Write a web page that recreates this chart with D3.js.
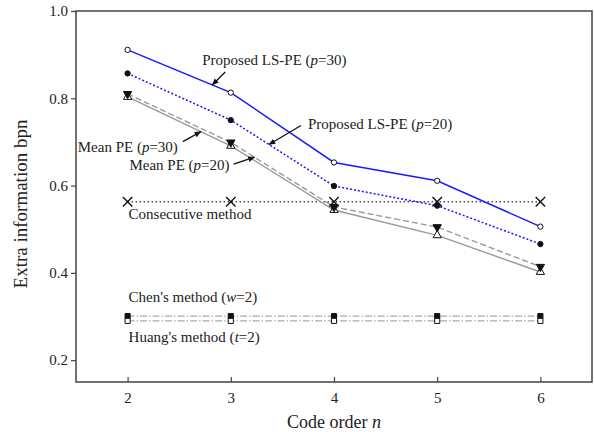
<!DOCTYPE html>
<html>
<head>
<meta charset="utf-8">
<script src="https://cdn.jsdelivr.net/npm/d3@7"></script>
<style>
  body { margin: 0; background: #fff; }
  text { font-family: "Liberation Serif", "Times New Roman", serif; fill: #222; }
</style>
</head>
<body>
<div id="chart"></div>
<script>
// data
const codeOrder = [2, 3, 4, 5, 6];
const lsPe30 = [0.911, 0.813, 0.653, 0.611, 0.506];
const lsPe20 = [0.857, 0.750, 0.599, 0.554, 0.466];
const meanPe20 = [0.810, 0.699, 0.551, 0.505, 0.414];  // dashed, filled down triangles
const meanPe30 = [0.803, 0.691, 0.544, 0.486, 0.402];  // solid, open triangles
const consecutive = [0.563, 0.563, 0.563, 0.563, 0.563];
const chen = [0.301, 0.301, 0.301, 0.301, 0.301];
const huang = [0.290, 0.290, 0.290, 0.290, 0.290];
const yTicks = [0.2, 0.4, 0.6, 0.8, 1.0];

var width = 594, height = 432;
var margin = { top: 11, right: 2, bottom: 50, left: 76 };

var svg = d3.select("#chart")
  .append("svg")
  .attr("width", width)
  .attr("height", height);

var x = d3.scaleLinear().domain([1.5, 6.5]).range([margin.left, width - margin.right]);
var y = d3.scaleLinear().domain([0.15, 1.0]).range([height - margin.bottom, margin.top]);

// arrow head
svg.append("defs").append("marker")
  .attr("id", "arrow")
  .attr("viewBox", "0 0 10 10")
  .attr("refX", 9).attr("refY", 5)
  .attr("markerWidth", 7).attr("markerHeight", 7)
  .attr("markerUnits", "userSpaceOnUse")
  .attr("orient", "auto")
  .append("path")
  .attr("d", "M0,1 L10,5 L0,9 Z")
  .attr("fill", "#111");

var axisColor = "#444";

// frame
svg.append("rect")
  .attr("x", x(1.5)).attr("y", y(1.0))
  .attr("width", x(6.5) - x(1.5)).attr("height", y(0.15) - y(1.0))
  .attr("fill", "none").attr("stroke", axisColor).attr("stroke-width", 1.5);

// x axis, ticks pointing in
var xAxis = svg.append("g")
  .attr("transform", "translate(0," + y(0.15) + ")")
  .call(d3.axisBottom(x).tickValues(codeOrder).tickFormat(d3.format("d"))
    .tickSizeInner(-5).tickSizeOuter(0).tickPadding(10));
xAxis.select(".domain").remove();
xAxis.selectAll("line").attr("stroke", axisColor).attr("stroke-width", 1.2);
xAxis.selectAll("text").attr("font-size", 15).attr("fill", "#222")
  .style("font-family", "Liberation Serif");

// y axis, ticks pointing out
var yAxis = svg.append("g")
  .attr("transform", "translate(" + x(1.5) + ",0)")
  .call(d3.axisLeft(y).tickValues(yTicks).tickFormat(d3.format(".1f"))
    .tickSizeInner(5).tickSizeOuter(0).tickPadding(3));
yAxis.select(".domain").remove();
yAxis.selectAll("line").attr("stroke", axisColor).attr("stroke-width", 1.2);
yAxis.selectAll("text").attr("font-size", 15).attr("fill", "#222")
  .style("font-family", "Liberation Serif");

// axis titles
var xTitle = svg.append("text")
  .attr("x", (x(1.5) + x(6.5)) / 2).attr("y", 428)
  .attr("text-anchor", "middle").attr("font-size", 18);
xTitle.append("tspan").text("Code order ");
xTitle.append("tspan").attr("font-style", "italic").text("n");

svg.append("text")
  .attr("transform", "translate(27,204) rotate(-90)")
  .attr("text-anchor", "middle").attr("font-size", 19)
  .text("Extra information bpn");

function series(values) {
  return codeOrder.map((n, i) => ({ n: n, v: values[i] }));
}

var line = d3.line().x(d => x(d.n)).y(d => y(d.v));

function drawLine(values, color, width, dash) {
  svg.append("path")
    .datum(series(values))
    .attr("d", line)
    .attr("fill", "none")
    .attr("stroke", color)
    .attr("stroke-width", width)
    .attr("stroke-dasharray", dash);
}

drawLine(chen, "#aaa", 1.3, "7,2,1.5,2");
drawLine(huang, "#aaa", 1.3, "7,2,1.5,2");
drawLine(consecutive, "#333", 1.3, "1.3,2.7");
drawLine(meanPe30, "#9a9a9a", 1.4, null);
drawLine(meanPe20, "#9a9a9a", 1.4, "6,3");
drawLine(lsPe20, "#1a1aff", 1.5, "2,2");
drawLine(lsPe30, "#1a1aff", 1.5, null);

// markers
function drawSymbols(values, type, size, fill, stroke, rotate, sw) {
  svg.append("g").selectAll("path")
    .data(series(values))
    .join("path")
    .attr("transform", d => "translate(" + x(d.n) + "," + y(d.v) + ") rotate(" + rotate + ")")
    .attr("d", d3.symbol().type(type).size(size))
    .attr("fill", fill)
    .attr("stroke", stroke)
    .attr("stroke-width", sw || 1);
}

drawSymbols(chen, d3.symbolSquare, 26, "#111", "#111", 0);
drawSymbols(huang, d3.symbolSquare, 26, "#fff", "#111", 0);
drawSymbols(consecutive, d3.symbolTimes, 60, "none", "#111", 0, 1.4);
drawSymbols(meanPe30, d3.symbolTriangle, 30, "#fff", "#111", 0);
drawSymbols(meanPe20, d3.symbolTriangle, 30, "#111", "#111", 180);
drawSymbols(lsPe20, d3.symbolCircle, 22, "#111", "#111", 0);
drawSymbols(lsPe30, d3.symbolCircle, 22, "#fff", "#111", 0);

// annotations: tip sits on the series at n, tail and text are offsets in px
const annotations = [
  { series: lsPe30, n: 2.82, tail: [13, -13], text: [-10, -20], anchor: "start", label: ["Proposed LS-PE (", "p", "=30)"] },
  { series: lsPe20, n: 3.37, tail: [32, -19], text: [39, -16], anchor: "start", label: ["Proposed LS-PE (", "p", "=20)"] },
  { series: meanPe30, n: 2.71, tail: [-18, 10], text: [-23, 20], anchor: "end", label: ["Mean PE (", "p", "=30)"] },
  { series: meanPe20, n: 3.23, tail: [-21, 7], text: [-25, 13], anchor: "end", label: ["Mean PE (", "p", "=20)"] }
];

function valueAt(values, n) {
  let i = Math.min(Math.floor(n) - 2, values.length - 2);
  let t = n - codeOrder[i];
  return values[i] + (values[i + 1] - values[i]) * t;
}

annotations.forEach(a => {
  let tx = x(a.n), ty = y(valueAt(a.series, a.n));
  svg.append("line")
    .attr("x1", tx + a.tail[0]).attr("y1", ty + a.tail[1])
    .attr("x2", tx).attr("y2", ty)
    .attr("stroke", "#111").attr("stroke-width", 1.3)
    .attr("marker-end", "url(#arrow)");
  let t = svg.append("text")
    .attr("x", tx + a.text[0]).attr("y", ty + a.text[1])
    .attr("text-anchor", a.anchor).attr("font-size", 15);
  t.append("tspan").text(a.label[0]);
  t.append("tspan").attr("font-style", "italic").text(a.label[1]);
  t.append("tspan").text(a.label[2]);
});

// labels for the flat lines
function flatLabel(values, dy, parts) {
  let t = svg.append("text")
    .attr("x", x(2) + 1).attr("y", y(values[0]) + dy)
    .attr("font-size", 15);
  t.append("tspan").text(parts[0]);
  if (parts.length > 1) {
    t.append("tspan").attr("font-style", "italic").text(parts[1]);
    t.append("tspan").text(parts[2]);
  }
}

flatLabel(consecutive, 17, ["Consecutive method"]);
flatLabel(chen, -14, ["Chen's method (", "w", "=2)"]);
flatLabel(huang, 21, ["Huang's method (", "t", "=2)"]);
</script>
</body>
</html>
